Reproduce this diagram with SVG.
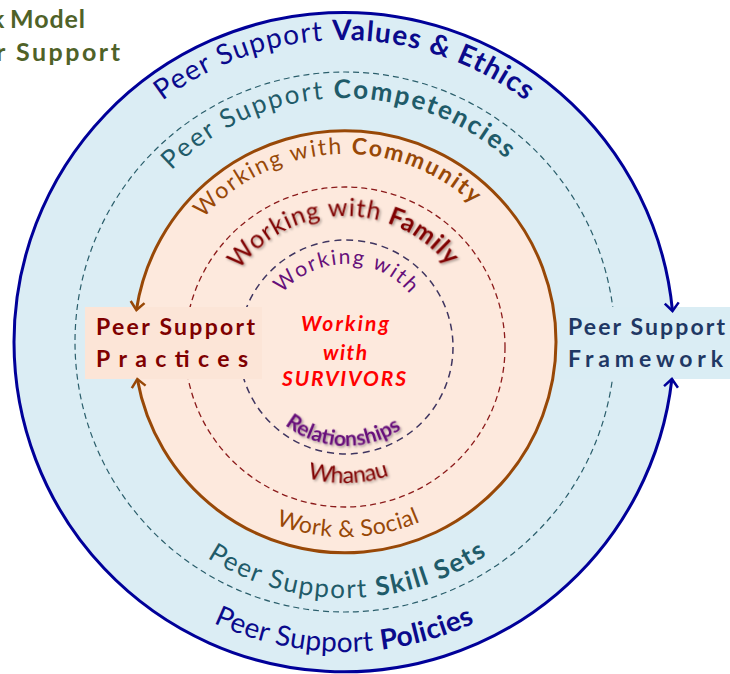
<svg xmlns="http://www.w3.org/2000/svg" width="730" height="674" viewBox="0 0 730 674">
<defs>
<style>
text{font-family:Lato,'Open Sans','Liberation Sans',sans-serif}
.b{font-weight:bold}
.navy{fill:#0a0a8c}
.teal{fill:#1f5b69}
.brown{fill:#984807}
.dred{fill:#7f0000}
.purp{fill:#66107a}
.sh{filter:url(#sh)}
.dash1{fill:none;stroke:#2a5e6b;stroke-width:1.2;stroke-dasharray:6 4}
.dash2{fill:none;stroke:#8b1a1a;stroke-width:1.3;stroke-dasharray:6 4}
.dash3{fill:none;stroke:#3f3560;stroke-width:1.5;stroke-dasharray:7 5}
.co{fill:none;stroke:#984807;stroke-width:3;marker-end:url(#ao)}
.cb{fill:none;stroke:#000099;stroke-width:3;marker-end:url(#ab)}
</style>
<filter id="sh" x="-20%" y="-20%" width="140%" height="140%"><feDropShadow dx="1.5" dy="1.5" stdDeviation="1" flood-color="#000" flood-opacity="0.35"/></filter>
<marker id="ao" markerUnits="userSpaceOnUse" viewBox="-10 -10 20 20" markerWidth="20" markerHeight="20" refX="0" refY="0" orient="auto" overflow="visible"><path d="M-8,-7 L0,0 L-8,7" fill="none" stroke="#984807" stroke-width="2.5"/></marker>
<marker id="ab" markerUnits="userSpaceOnUse" viewBox="-10 -10 20 20" markerWidth="20" markerHeight="20" refX="0" refY="0" orient="auto" overflow="visible"><path d="M-8,-7 L0,0 L-8,7" fill="none" stroke="#000099" stroke-width="2.5"/></marker>
<path id="p1" d="M42,342 A302,302 0 0 1 646,342"/>
<path id="p2" d="M101,342 A244,244 0 0 1 589,342"/>
<path id="p3" d="M157,342 A188,188 0 0 1 533,342"/>
<path id="p4" d="M214,347 A131,131 0 0 1 476,347"/>
<path id="p5" d="M263,347 A83,83 0 0 1 429,347"/>
<path id="p6" d="M247,347 A99,99 0 0 0 445,347"/>
<path id="p7" d="M209,347 A136,136 0 0 0 481,347"/>
<path id="p8" d="M150,342 A195,195 0 0 0 540,342"/>
<path id="p9" d="M89,342 A256,256 0 0 0 601,342"/>
<path id="p10" d="M34,342 A310,310 0 0 0 654,342"/>
</defs>
<rect width="730" height="674" fill="#ffffff"/>

<g id="title" class="b" fill="#4f6228" font-size="25">
<text y="28"><tspan x="-9">k</tspan><tspan x="10" textLength="75" lengthAdjust="spacing">Model</tspan></text>
<text y="61"><tspan x="-4">r</tspan><tspan x="16" textLength="104" lengthAdjust="spacing">Support</tspan></text>
</g>

<g id="ring-values">
<circle cx="344" cy="342" r="330" fill="#dbedf4"/>
<text class="navy" font-size="28"><textPath href="#p1" startOffset="50%" text-anchor="middle" textLength="390" lengthAdjust="spacing">Peer Support <tspan class="b">Values &amp; Ethics</tspan></textPath></text>
<text class="navy" font-size="28"><textPath href="#p10" startOffset="50%" text-anchor="middle" textLength="270" lengthAdjust="spacing">Peer Support <tspan class="b">Policies</tspan></textPath></text>
</g>

<g id="ring-competencies">
<circle class="dash1" cx="345" cy="342" r="270"/>
<text class="teal" font-size="26" transform="rotate(-2 345 342)"><textPath href="#p2" startOffset="50%" text-anchor="middle" textLength="369" lengthAdjust="spacing">Peer Support <tspan class="b">Competencies</tspan></textPath></text>
<text class="teal" font-size="26" transform="rotate(-0.5 345 342)"><textPath href="#p9" startOffset="50%" text-anchor="middle" textLength="296" lengthAdjust="spacing">Peer Support <tspan class="b">Skill Sets</tspan></textPath></text>
</g>

<g id="circle-community">
<circle cx="345" cy="342" r="211" fill="#fde9dd"/>
<text class="brown" font-size="23" transform="rotate(-3 345 342)"><textPath href="#p3" startOffset="50%" text-anchor="middle" textLength="301" lengthAdjust="spacing">Working with <tspan class="b">Community</tspan></textPath></text>
<text class="brown" font-size="23" transform="rotate(-1 345 342)"><textPath href="#p8" startOffset="50%" text-anchor="middle" textLength="148" lengthAdjust="spacing">Work &amp; Social</textPath></text>
</g>

<g id="ring-family">
<circle class="dash2" cx="345" cy="347" r="160"/>
<text class="dred sh" font-size="25" transform="rotate(-1 345 347)"><textPath href="#p4" startOffset="50%" text-anchor="middle" textLength="242" lengthAdjust="spacing">Working with <tspan class="b">Family</tspan></textPath></text>
<text class="dred sh" font-size="23" transform="rotate(-1.5 345 347)"><textPath href="#p7" startOffset="50%" text-anchor="middle" textLength="83" lengthAdjust="spacing">Whanau</textPath></text>
</g>

<g id="ring-relationships">
<circle class="dash3" cx="346" cy="347" r="107"/>
<text class="purp" font-size="21"><textPath href="#p5" startOffset="50%" text-anchor="middle" textLength="145" lengthAdjust="spacing">Working with</textPath></text>
<text class="purp b sh" font-size="21" transform="rotate(2 346 347)"><textPath href="#p6" startOffset="50%" text-anchor="middle" textLength="125" lengthAdjust="spacing">Relationships</textPath></text>
</g>

<g id="center" fill="#ff0000" font-weight="bold" font-style="italic" font-size="21" text-anchor="middle">
<text x="345" y="331" textLength="88" lengthAdjust="spacing">Working</text>
<text x="345" y="360" textLength="44" lengthAdjust="spacing">with</text>
<text x="344" y="386" textLength="124" lengthAdjust="spacing">SURVIVORS</text>
</g>

<g id="practices">
<rect x="85" y="307" width="177" height="72" fill="#fce5d7"/>
<text class="dred b" font-size="23" x="96" y="335" textLength="159" lengthAdjust="spacing">Peer Support</text>
<text class="dred b" font-size="23" x="96" y="367" textLength="152" lengthAdjust="spacing">Practices</text>
</g>

<g id="framework">
<rect x="560" y="307" width="170" height="72" fill="#daedf4"/>
<text class="b" fill="#1f3864" font-size="23" x="568" y="335" textLength="157" lengthAdjust="spacing">Peer Support</text>
<text class="b" fill="#1f3864" font-size="23" x="568" y="367" textLength="155" lengthAdjust="spacing">Framework</text>
</g>

<g id="connectors">
<path class="co" d="M556,342 A211,211 0 0 0 136.4,310"/>
<path class="co" d="M556,342 A211,211 0 0 1 137.3,379"/>
<path class="cb" d="M14,342 A330,330 0 0 1 672.5,311"/>
<path class="cb" d="M14,342 A330,330 0 0 0 671.9,379"/>
</g>
</svg>
